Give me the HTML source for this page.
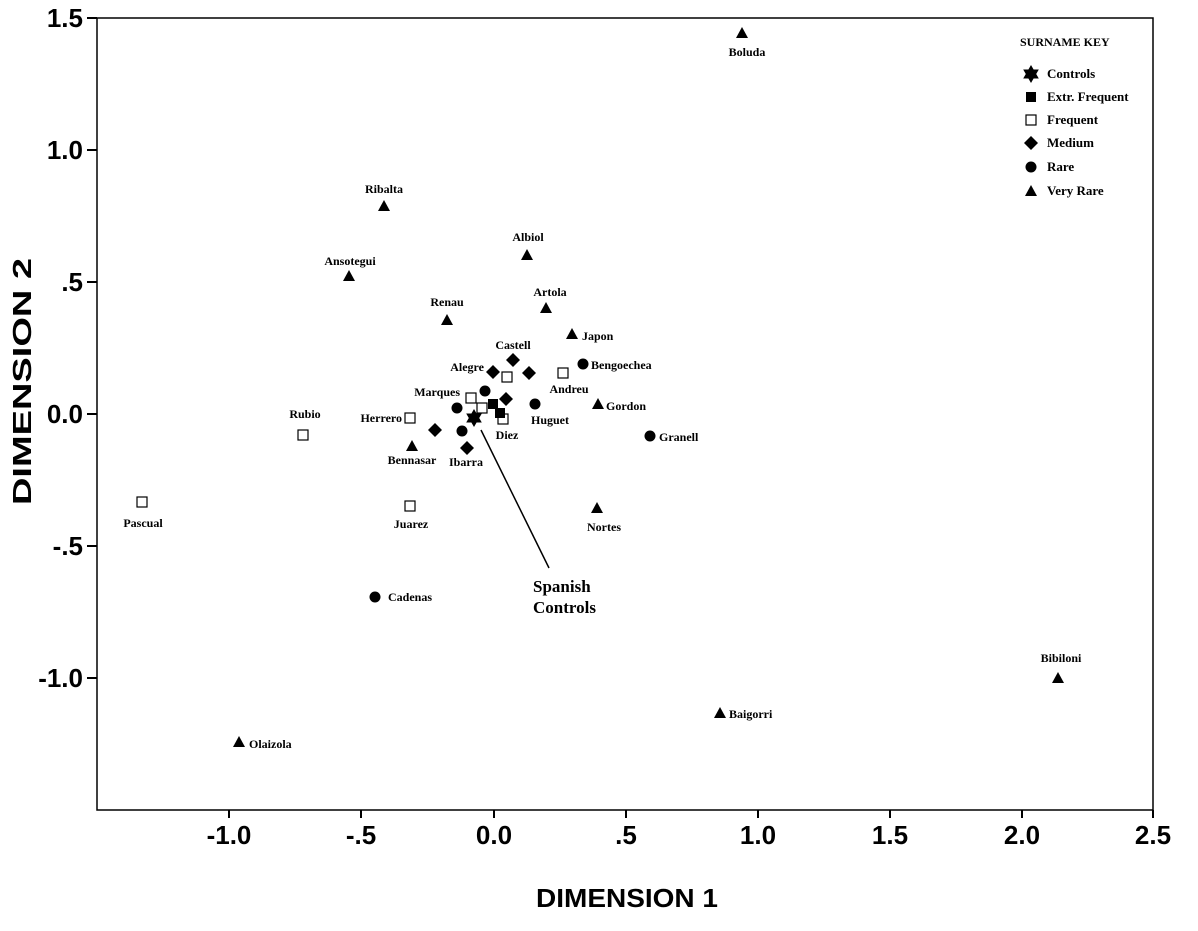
<!DOCTYPE html>
<html><head><meta charset="utf-8"><style>
html,body{margin:0;padding:0;background:#fff;}
svg{display:block;}
.l{font-family:"Liberation Serif",serif;font-weight:bold;font-size:12px;}
.t{font-family:"Liberation Sans",sans-serif;font-weight:bold;font-size:26px;}
</style></head><body>
<svg width="1198" height="931" viewBox="0 0 1198 931" xmlns="http://www.w3.org/2000/svg">
<defs>
<path id="tri" d="M0,-6 L6,5 L-6,5 Z"/>
<rect id="sq" x="-5" y="-5" width="10" height="10" fill="#fff" stroke="#000" stroke-width="1.2"/>
<rect id="fsq" x="-5" y="-5" width="10" height="10"/>
<path id="dia" d="M0,-7 L7,0 L0,7 L-7,0 Z"/>
<circle id="cir" r="5.5"/>
<path id="star" d="M0,-9 L2.6,-4.5 L7.8,-4.5 L5.2,0 L7.8,4.5 L2.6,4.5 L0,9 L-2.6,4.5 L-7.8,4.5 L-5.2,0 L-7.8,-4.5 L-2.6,-4.5 Z"/>
</defs>
<rect x="97" y="18" width="1056" height="792" fill="none" stroke="#000" stroke-width="1.5"/>
<g stroke="#000" stroke-width="2">
<line x1="87" y1="18" x2="97" y2="18"/><line x1="87" y1="150" x2="97" y2="150"/><line x1="87" y1="282" x2="97" y2="282"/><line x1="87" y1="414" x2="97" y2="414"/><line x1="87" y1="546" x2="97" y2="546"/><line x1="87" y1="678" x2="97" y2="678"/>
<line x1="229" y1="810" x2="229" y2="818"/><line x1="361" y1="810" x2="361" y2="818"/><line x1="494" y1="810" x2="494" y2="818"/><line x1="626" y1="810" x2="626" y2="818"/><line x1="758" y1="810" x2="758" y2="818"/><line x1="890" y1="810" x2="890" y2="818"/><line x1="1022" y1="810" x2="1022" y2="818"/><line x1="1153" y1="810" x2="1153" y2="818"/>
</g>
<g class="t" text-anchor="end">
<text x="83" y="27">1.5</text><text x="83" y="159">1.0</text><text x="83" y="291">.5</text><text x="83" y="423">0.0</text><text x="83" y="555">-.5</text><text x="83" y="687">-1.0</text>
</g>
<g class="t" text-anchor="middle">
<text x="229" y="844">-1.0</text><text x="361" y="844">-.5</text><text x="494" y="844">0.0</text><text x="626" y="844">.5</text><text x="758" y="844">1.0</text><text x="890" y="844">1.5</text><text x="1022" y="844">2.0</text><text x="1153" y="844">2.5</text>
</g>
<text class="t" x="536" y="907" textLength="182" lengthAdjust="spacingAndGlyphs">DIMENSION 1</text>
<text class="t" transform="translate(31,505) rotate(-90)" textLength="247" lengthAdjust="spacingAndGlyphs">DIMENSION 2</text>

<g>
<use href="#tri" x="742" y="33"/><use href="#tri" x="384" y="206"/><use href="#tri" x="527" y="255"/><use href="#tri" x="349" y="276"/><use href="#tri" x="447" y="320"/><use href="#tri" x="546" y="308"/><use href="#tri" x="572" y="334"/><use href="#tri" x="598" y="404"/><use href="#tri" x="412" y="446"/><use href="#tri" x="597" y="508"/><use href="#tri" x="1058" y="678"/><use href="#tri" x="720" y="713"/><use href="#tri" x="239" y="742"/>
</g>
<g>
<use href="#cir" x="583" y="364"/><use href="#cir" x="535" y="404"/><use href="#cir" x="650" y="436"/><use href="#cir" x="485" y="391"/><use href="#cir" x="457" y="408"/><use href="#cir" x="462" y="431"/><use href="#cir" x="375" y="597"/>
</g>
<g>
<use href="#dia" x="513" y="360"/><use href="#dia" x="493" y="372"/><use href="#dia" x="529" y="373"/><use href="#dia" x="506" y="399"/><use href="#dia" x="435" y="430"/><use href="#dia" x="467" y="448"/>
</g>
<g>
<use href="#sq" x="507" y="377"/><use href="#sq" x="563" y="373"/><use href="#sq" x="471" y="398"/><use href="#sq" x="482" y="408"/><use href="#sq" x="503" y="419"/><use href="#sq" x="410" y="418"/><use href="#sq" x="303" y="435"/><use href="#sq" x="142" y="502"/><use href="#sq" x="410" y="506"/>
</g>
<use href="#fsq" x="493" y="404"/><use href="#fsq" x="500" y="413"/>
<use href="#star" x="474" y="418"/>
<line x1="481" y1="430" x2="549" y2="568" stroke="#000" stroke-width="1.5"/>

<g class="l" text-anchor="middle">
<text x="747" y="56">Boluda</text><text x="384" y="193">Ribalta</text><text x="528" y="241">Albiol</text><text x="350" y="265">Ansotegui</text><text x="447" y="306">Renau</text><text x="550" y="296">Artola</text>
<text x="513" y="349">Castell</text><text x="507" y="439">Diez</text><text x="569" y="393">Andreu</text><text x="550" y="424">Huguet</text><text x="412" y="464">Bennasar</text><text x="466" y="466">Ibarra</text>
<text x="604" y="531">Nortes</text><text x="1061" y="662">Bibiloni</text><text x="305" y="418">Rubio</text><text x="143" y="527">Pascual</text><text x="411" y="528">Juarez</text>
</g>
<g class="l" text-anchor="end">
<text x="484" y="371">Alegre</text><text x="460" y="396">Marques</text><text x="402" y="422">Herrero</text>
</g>
<g class="l">
<text x="582" y="340">Japon</text><text x="591" y="369">Bengoechea</text><text x="606" y="410">Gordon</text><text x="659" y="441">Granell</text><text x="729" y="718">Baigorri</text><text x="249" y="748">Olaizola</text><text x="388" y="601">Cadenas</text>
</g>
<text class="l" x="533" y="592" style="font-size:17px">Spanish</text>
<text class="l" x="533" y="613" style="font-size:17px">Controls</text>

<text class="l" x="1020" y="46">SURNAME KEY</text>
<use href="#star" x="1031" y="74"/>
<use href="#fsq" x="1031" y="97"/>
<use href="#sq" x="1031" y="120"/>
<use href="#dia" x="1031" y="143"/>
<use href="#cir" x="1031" y="167"/>
<use href="#tri" x="1031" y="191"/>
<g class="l" style="font-size:13px">
<text x="1047" y="78">Controls</text><text x="1047" y="101">Extr. Frequent</text><text x="1047" y="124">Frequent</text><text x="1047" y="147">Medium</text><text x="1047" y="171">Rare</text><text x="1047" y="195">Very Rare</text>
</g>
</svg>
</body></html>
